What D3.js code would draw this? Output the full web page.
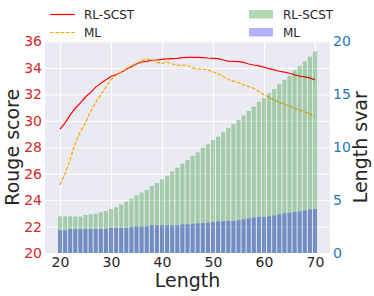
<!DOCTYPE html>
<html>
<head>
<meta charset="utf-8">
<script src="https://cdn.jsdelivr.net/npm/d3@7"></script>
<style>
  body { margin: 0; background: #fff; }
  text { font-family: "DejaVu Sans", sans-serif; }
</style>
</head>
<body>
<div id="wrapper"></div>
<script>
// lengths on the x axis
const lengths = d3.range(20, 71);

// rouge scores (left axis)
const rougeRL = [29.38, 29.85, 30.45, 30.95, 31.35, 31.8, 32.15, 32.55, 32.85, 33.1,
  33.35, 33.5, 33.65, 33.9, 34.1, 34.3, 34.45, 34.5, 34.58, 34.6,
  34.65, 34.68, 34.7, 34.72, 34.78, 34.8, 34.8, 34.8, 34.78, 34.75,
  34.73, 34.7, 34.6, 34.52, 34.5, 34.48, 34.42, 34.3, 34.22, 34.15,
  34.05, 33.95, 33.85, 33.75, 33.68, 33.6, 33.48, 33.38, 33.32, 33.25, 33.1];
const rougeML = [25.15, 26.0, 27.1, 28.3, 29.2, 29.85, 30.7, 31.4, 31.95, 32.55,
  33.1, 33.45, 33.7, 33.95, 34.15, 34.35, 34.55, 34.68, 34.62, 34.4,
  34.35, 34.45, 34.3, 34.2, 34.22, 34.2, 34.0, 33.92, 33.9, 33.85,
  33.7, 33.55, 33.35, 33.12, 33.0, 32.9, 32.72, 32.6, 32.45, 32.2,
  31.98, 31.78, 31.58, 31.4, 31.25, 31.1, 30.95, 30.82, 30.68, 30.5, 30.3];

// length variance (right axis)
const svarRL = [3.47, 3.47, 3.47, 3.45, 3.45, 3.6, 3.66, 3.72, 3.85, 3.97,
  4.16, 4.32, 4.57, 4.85, 5.14, 5.46, 5.71, 5.96, 6.34, 6.62,
  6.97, 7.31, 7.73, 8.07, 8.45, 8.8, 9.18, 9.52, 9.96, 10.28,
  10.69, 11.0, 11.42, 11.83, 12.2, 12.58, 12.99, 13.43, 13.84, 14.29,
  14.66, 15.1, 15.5, 15.96, 16.37, 16.77, 17.28, 17.69, 18.14, 18.57, 19.05];
const svarML = [2.15, 2.12, 2.27, 2.27, 2.27, 2.27, 2.27, 2.27, 2.27, 2.27,
  2.37, 2.37, 2.37, 2.37, 2.46, 2.52, 2.52, 2.52, 2.62, 2.62,
  2.62, 2.62, 2.62, 2.62, 2.71, 2.71, 2.77, 2.8, 2.83, 2.87,
  2.93, 3.0, 3.0, 3.03, 3.03, 3.09, 3.19, 3.28, 3.34, 3.41,
  3.41, 3.47, 3.56, 3.66, 3.75, 3.81, 3.88, 3.94, 4.04, 4.1, 4.16];

const leftTicks = [20, 22, 24, 26, 28, 30, 32, 34, 36];
const rightTicks = [0, 5, 10, 15, 20];
const xTicks = [20, 30, 40, 50, 60, 70];

const dimension = {
    width: 374,
    height: 296,
    margin: { top: 41.5, right: 44, bottom: 43, left: 45 }
};
dimension.boundedWidth = dimension.width - dimension.margin.left - dimension.margin.right;
dimension.boundedHeight = dimension.height - dimension.margin.top - dimension.margin.bottom;

const wrapper = d3.select("#wrapper")
    .append("svg")
    .attr("width", dimension.width)
    .attr("height", dimension.height);

const bounds = wrapper.append("g")
    .attr("transform", `translate(${dimension.margin.left},${dimension.margin.top})`);

const x = d3.scaleLinear()
    .domain([17.06, 72.94])
    .range([0, dimension.boundedWidth]);
const yLeft = d3.scaleLinear()
    .domain([20, 36])
    .range([dimension.boundedHeight, 0]);
const yRight = d3.scaleLinear()
    .domain([0, 20])
    .range([dimension.boundedHeight, 0]);

bounds.append("rect")
    .attr("width", dimension.boundedWidth)
    .attr("height", dimension.boundedHeight)
    .attr("fill", "#eaeaf2");

// grid
bounds.append("g")
    .call(d3.axisLeft(yLeft).tickValues(leftTicks).tickSize(-dimension.boundedWidth).tickFormat(""))
    .call(g => g.select(".domain").remove())
    .call(g => g.selectAll("line").attr("stroke", "#fff").attr("stroke-width", 1));
bounds.append("g")
    .attr("transform", `translate(0,${dimension.boundedHeight})`)
    .call(d3.axisBottom(x).tickValues(xTicks).tickSize(dimension.boundedHeight).tickFormat(""))
    .call(g => g.select(".domain").remove())
    .call(g => g.selectAll("line").attr("y2", -dimension.boundedHeight).attr("stroke", "#fff").attr("stroke-width", 1));

// lines
const lineRL = d3.line().x((d, i) => x(lengths[i])).y(d => yLeft(d));
bounds.append("path")
    .datum(rougeRL)
    .attr("d", lineRL)
    .attr("fill", "none")
    .attr("stroke", "#ff0000")
    .attr("stroke-width", 1.2);
bounds.append("path")
    .datum(rougeML)
    .attr("d", lineRL)
    .attr("fill", "none")
    .attr("stroke", "#ffa500")
    .attr("stroke-width", 1.2)
    .attr("stroke-dasharray", "3.7,1.6");

// bars (twin axis, on top)
const bw = x(0.8) - x(0);
bounds.append("g")
    .selectAll("rect")
    .data(svarRL)
    .enter()
    .append("rect")
    .attr("x", (d, i) => x(lengths[i]) - bw / 2)
    .attr("width", bw)
    .attr("y", d => yRight(d))
    .attr("height", d => yRight(0) - yRight(d))
    .attr("fill", "#008000")
    .attr("fill-opacity", 0.3);
bounds.append("g")
    .selectAll("rect")
    .data(svarML)
    .enter()
    .append("rect")
    .attr("x", (d, i) => x(lengths[i]) - bw / 2)
    .attr("width", bw)
    .attr("y", d => yRight(d))
    .attr("height", d => yRight(0) - yRight(d))
    .attr("fill", "#0000ff")
    .attr("fill-opacity", 0.3);

// tick labels
const leftAxis = bounds.append("g")
    .call(d3.axisLeft(yLeft).tickValues(leftTicks).tickSize(0).tickPadding(3))
    .call(g => g.select(".domain").remove());
leftAxis.selectAll("text")
    .attr("fill", "#d62728")
    .style("font-size", "14px")
    .style("font-family", "DejaVu Sans");

const rightAxis = bounds.append("g")
    .attr("transform", `translate(${dimension.boundedWidth},0)`)
    .call(d3.axisRight(yRight).tickValues(rightTicks).tickSize(0).tickPadding(3))
    .call(g => g.select(".domain").remove());
rightAxis.selectAll("text")
    .attr("fill", "#1f77b4")
    .style("font-size", "14px")
    .style("font-family", "DejaVu Sans");

const bottomAxis = bounds.append("g")
    .attr("transform", `translate(0,${dimension.boundedHeight})`)
    .call(d3.axisBottom(x).tickValues(xTicks).tickSize(0).tickPadding(4))
    .call(g => g.select(".domain").remove());
bottomAxis.selectAll("text")
    .attr("fill", "#262626")
    .style("font-size", "14px")
    .style("font-family", "DejaVu Sans");

// axis titles
wrapper.append("text")
    .attr("transform", `translate(19,${dimension.margin.top + dimension.boundedHeight / 2}) rotate(-90)`)
    .attr("text-anchor", "middle")
    .attr("fill", "#262626")
    .style("font-size", "19px")
    .text("Rouge score");
wrapper.append("text")
    .attr("transform", `translate(367,${dimension.margin.top + dimension.boundedHeight / 2}) rotate(-90)`)
    .attr("text-anchor", "middle")
    .attr("fill", "#262626")
    .style("font-size", "19px")
    .text("Length svar");
wrapper.append("text")
    .attr("x", dimension.margin.left + dimension.boundedWidth / 2)
    .attr("y", 287)
    .attr("text-anchor", "middle")
    .attr("fill", "#262626")
    .style("font-size", "19px")
    .text("Length");

// legends
const legL = wrapper.append("g");
legL.append("line").attr("x1", 50).attr("x2", 75).attr("y1", 14.5).attr("y2", 14.5)
    .attr("stroke", "#ff0000").attr("stroke-width", 1.2);
legL.append("line").attr("x1", 50).attr("x2", 75).attr("y1", 32.5).attr("y2", 32.5)
    .attr("stroke", "#ffa500").attr("stroke-width", 1.2).attr("stroke-dasharray", "3.7,1.6");
legL.append("text").attr("x", 84).attr("y", 19).attr("fill", "#262626").style("font-size", "12px").text("RL-SCST");
legL.append("text").attr("x", 84).attr("y", 37).attr("fill", "#262626").style("font-size", "12px").text("ML");

const legR = wrapper.append("g");
legR.append("rect").attr("x", 249).attr("y", 10).attr("width", 24).attr("height", 8.5)
    .attr("fill", "#008000").attr("fill-opacity", 0.3);
legR.append("rect").attr("x", 249).attr("y", 28).attr("width", 24).attr("height", 8.5)
    .attr("fill", "#0000ff").attr("fill-opacity", 0.3);
legR.append("text").attr("x", 283).attr("y", 19).attr("fill", "#262626").style("font-size", "12px").text("RL-SCST");
legR.append("text").attr("x", 283).attr("y", 37).attr("fill", "#262626").style("font-size", "12px").text("ML");
</script>
</body>
</html>
